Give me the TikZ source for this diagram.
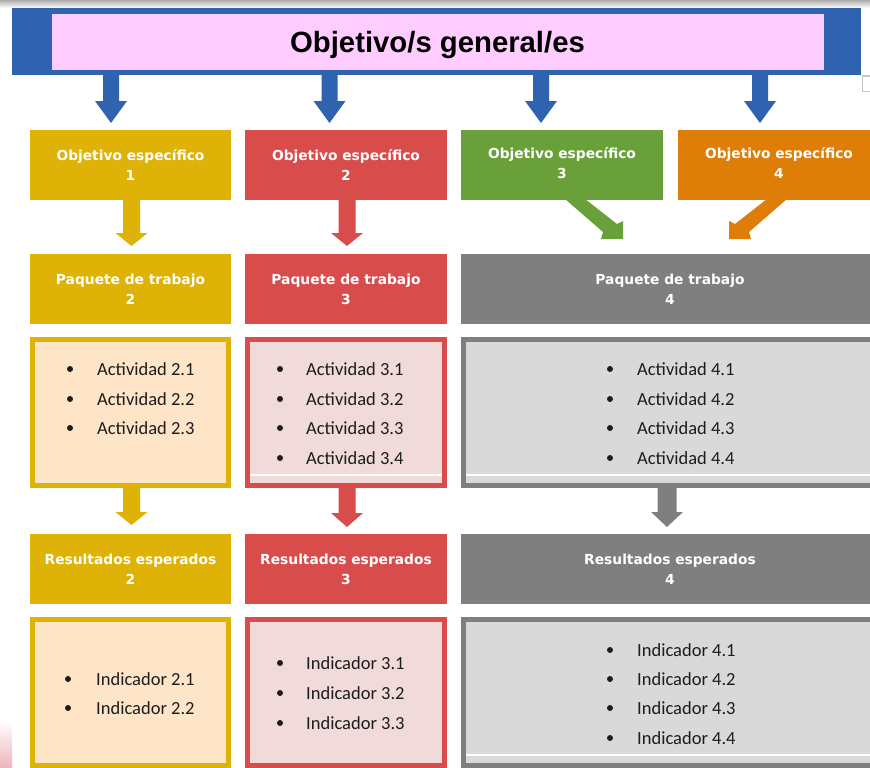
\documentclass[tikz,border=0pt]{standalone}
\usepackage{fontspec}
\setmainfont{Carlito}
\newfontfamily\titlefont{Liberation Sans}
\newfontfamily\headfont{DejaVu Sans}
\usetikzlibrary{calc}
\definecolor{blueband}{RGB}{47,99,176}
\definecolor{pinkc}{RGB}{255,204,255}
\definecolor{yel}{RGB}{222,178,6}
\definecolor{redc}{RGB}{217,76,76}
\definecolor{greenc}{RGB}{106,160,58}
\definecolor{orangec}{RGB}{222,125,8}
\definecolor{grayc}{RGB}{127,127,127}
\definecolor{peach}{RGB}{254,229,199}
\definecolor{rose}{RGB}{240,218,218}
\definecolor{lgray}{RGB}{217,217,217}
\definecolor{txt}{RGB}{28,28,28}
\definecolor{pinkfade}{RGB}{240,180,185}
\newcommand\blockdown[6]{%
  \fill[#3] let \p1=(#1), \p2=(#2) in
    (\x2-#4pt,\y1) -- (\x2+#4pt,\y1) -- (\x2+#4pt,\y2+#6pt) -- (\x2+#5pt,\y2+#6pt)
    -- (\x2,\y2) -- (\x2-#5pt,\y2+#6pt) -- (\x2-#4pt,\y2+#6pt) -- cycle;}
\tikzset{
  filledbox/.style={rectangle, inner sep=0pt, fill=#1, draw=none},
  hdr/.style={text=white, align=center, font=\headfont\bfseries\fontsize{13.8}{20}\selectfont},
  listbox/.style={rectangle, inner sep=0pt, draw=#1, line width=5pt},
  bul/.style={circle, fill=txt, inner sep=0pt, minimum size=6pt},
  itm/.style={anchor=west, inner sep=0pt, text height=12pt, text depth=0pt, text=txt,
    font=\fontsize{18.5}{22}\selectfont},
  gentitle/.style={inner sep=0pt, text height=21pt, text depth=0pt,
    font=\titlefont\bfseries\fontsize{29.3}{32}\selectfont},
}
\begin{document}
\begin{tikzpicture}[x=1pt,y=-1pt]
\useasboundingbox (0,0) rectangle (870,768);
% screenshot artefacts
\shade[top color=gray!65, bottom color=white] (0,0) rectangle (870,8);
\shade[top color=white, bottom color=pinkfade] (0,720) rectangle (12,768);
\draw[gray!45, line width=1.2pt] (862.5,76) rectangle (876,91.5);

% general objective
\node[filledbox=blueband, minimum width=849pt, minimum height=67pt] (band) at (436.5,41.5) {};
\node[filledbox=pinkc, minimum width=772pt, minimum height=56pt] (gen) at (438,42) {};
\node[gentitle] (gentxt) at (437.5,42) {Objetivo/s general/es};

% row 1
\node[filledbox=yel, minimum width=201pt, minimum height=70pt, hdr] (os1) at (130.5,165) {Objetivo específico\\1};
\node[filledbox=redc, minimum width=202pt, minimum height=70pt, hdr] (os2) at (346,165) {Objetivo específico\\2};
\node[filledbox=greenc, minimum width=202pt, minimum height=70pt] (os3) at (562,165) {};
\node[filledbox=orangec, minimum width=202pt, minimum height=70pt] (os4) at (779,165) {};
\node[hdr] (os3t) at (562,163) {Objetivo específico\\3};
\node[hdr] (os4t) at (779,163) {Objetivo específico\\4};

% row 2
\node[filledbox=yel, minimum width=201pt, minimum height=70pt, hdr] (pt1) at (130.5,289) {Paquete de trabajo\\2};
\node[filledbox=redc, minimum width=202pt, minimum height=70pt, hdr] (pt2) at (346,289) {Paquete de trabajo\\3};
\node[filledbox=grayc, minimum width=418pt, minimum height=70pt, hdr] (pt3) at (670,289) {Paquete de trabajo\\4};

% row 3
\node[listbox=yel, fill=peach, minimum width=196pt, minimum height=146pt] (ab1) at (130.5,412.5) {};
\node[listbox=redc, fill=rose, minimum width=197pt, minimum height=146pt] (ab2) at (346,412.5) {};
\node[listbox=grayc, fill=lgray, minimum width=413pt, minimum height=146pt] (ab3) at (670,412.5) {};
\draw[white, line width=1.3pt] (250,475) -- (442,475);
\draw[white, line width=1.3pt] (466,475) -- (876,475);

\node[bul] (b211) at (70,369) {}; \node[itm] (a21) at (97,369) {Actividad 2.1};
\node[bul] (b212) at (70,399) {}; \node[itm] (a22) at (97,399) {Actividad 2.2};
\node[bul] (b213) at (70,428) {}; \node[itm] (a23) at (97,428) {Actividad 2.3};

\node[bul] (b311) at (280,369) {}; \node[itm] (a31) at (306,369) {Actividad 3.1};
\node[bul] (b312) at (280,399) {}; \node[itm] (a32) at (306,399) {Actividad 3.2};
\node[bul] (b313) at (280,428) {}; \node[itm] (a33) at (306,428) {Actividad 3.3};
\node[bul] (b314) at (280,458) {}; \node[itm] (a34) at (306,458) {Actividad 3.4};

\node[bul] (b411) at (610,369) {}; \node[itm] (a41) at (637,369) {Actividad 4.1};
\node[bul] (b412) at (610,399) {}; \node[itm] (a42) at (637,399) {Actividad 4.2};
\node[bul] (b413) at (610,428) {}; \node[itm] (a43) at (637,428) {Actividad 4.3};
\node[bul] (b414) at (610,458) {}; \node[itm] (a44) at (637,458) {Actividad 4.4};

% row 4
\node[filledbox=yel, minimum width=201pt, minimum height=70pt, hdr] (re1) at (130.5,569) {Resultados esperados\\2};
\node[filledbox=redc, minimum width=202pt, minimum height=70pt, hdr] (re2) at (346,569) {Resultados esperados\\3};
\node[filledbox=grayc, minimum width=418pt, minimum height=70pt, hdr] (re3) at (670,569) {Resultados esperados\\4};

% row 5
\node[listbox=yel, fill=peach, minimum width=196pt, minimum height=146pt] (ib1) at (130.5,692.5) {};
\node[listbox=redc, fill=rose, minimum width=197pt, minimum height=146pt] (ib2) at (346,692.5) {};
\node[listbox=grayc, fill=lgray, minimum width=413pt, minimum height=146pt] (ib3) at (670,692.5) {};
\draw[white, line width=1.3pt] (466,755) -- (876,755);

\node[bul] (c211) at (68,679) {}; \node[itm] (i21) at (96,679) {Indicador 2.1};
\node[bul] (c212) at (68,708) {}; \node[itm] (i22) at (96,708) {Indicador 2.2};

\node[bul] (c311) at (280,663) {}; \node[itm] (i31) at (306,663) {Indicador 3.1};
\node[bul] (c312) at (280,693) {}; \node[itm] (i32) at (306,693) {Indicador 3.2};
\node[bul] (c313) at (280,723) {}; \node[itm] (i33) at (306,723) {Indicador 3.3};

\node[bul] (c411) at (610,650) {}; \node[itm] (i41) at (637,650) {Indicador 4.1};
\node[bul] (c412) at (610,679) {}; \node[itm] (i42) at (637,679) {Indicador 4.2};
\node[bul] (c413) at (610,708) {}; \node[itm] (i43) at (637,708) {Indicador 4.3};
\node[bul] (c414) at (610,738) {}; \node[itm] (i44) at (637,738) {Indicador 4.4};

% arrow tips
\coordinate (tb1) at (111,123);
\coordinate (tb2) at (329.5,123);
\coordinate (tb3) at (541,123);
\coordinate (tb4) at (760,123);
\coordinate (ty1) at (131.5,246);
\coordinate (tr1) at (347,246);
\coordinate (ty2) at (131.5,525);
\coordinate (tr2) at (347,527);
\coordinate (tg2) at (667,527);

% blue arrows band -> specific objectives
\blockdown{band.south -| tb1}{tb1}{blueband}{8}{16}{22}
\blockdown{band.south -| tb2}{tb2}{blueband}{8}{16}{22}
\blockdown{band.south -| tb3}{tb3}{blueband}{8}{16}{22}
\blockdown{band.south -| tb4}{tb4}{blueband}{8}{16}{22}

% specific objectives -> work packages
\blockdown{os1.south -| ty1}{ty1}{yel}{8.5}{16}{13}
\blockdown{os2.south -| tr1}{tr1}{redc}{8.5}{16}{13}
\fill[greenc] (565,199) -- (603,232) -- (601,239) -- (623,239) -- (623,221) -- (617,224) -- (585,199) -- cycle;
\fill[orangec] (787,199) -- (749,232) -- (751,239) -- (729,239) -- (729,221) -- (735,224) -- (767,199) -- cycle;

% activities -> results
\blockdown{ab1.south -| ty2}{ty2}{yel}{8.5}{16}{13}
\blockdown{ab2.south -| tr2}{tr2}{redc}{8.5}{16}{14}
\blockdown{ab3.south -| tg2}{tg2}{grayc}{9.5}{16}{15}
\end{tikzpicture}
\end{document}
